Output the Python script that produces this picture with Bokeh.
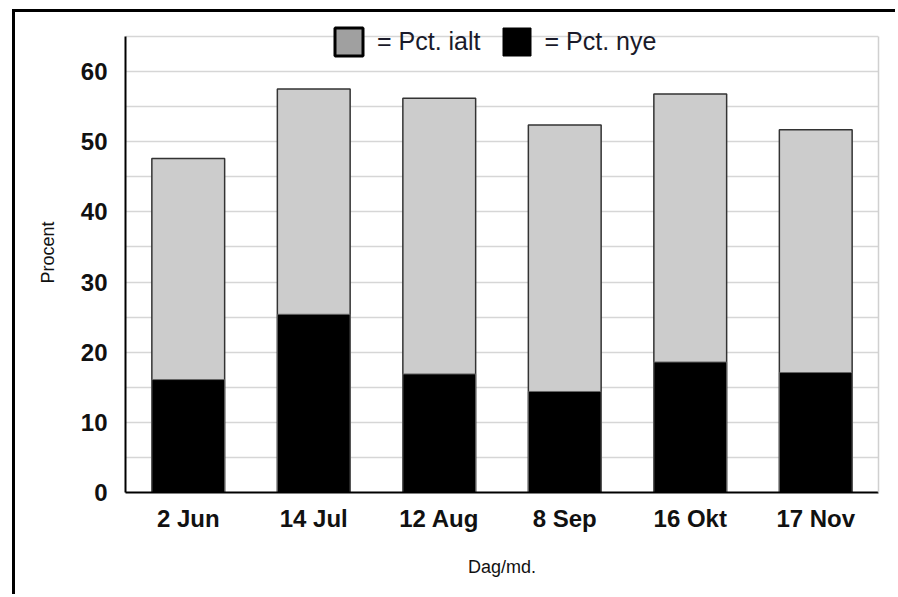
from bokeh.plotting import figure
from bokeh.models import (FactorRange, Range1d, SingleIntervalTicker, FixedTicker,
                          Legend, LegendItem, LinearAxis)
from bokeh.embed import file_html
from bokeh.resources import INLINE

dates = ["2 Jun", "14 Jul", "12 Aug", "8 Sep", "16 Okt", "17 Nov"]
pct_ialt = [47.6, 57.5, 56.2, 52.4, 56.8, 51.7]
pct_nye = [16.1, 25.4, 16.9, 14.4, 18.6, 17.1]
legend_labels = ["= Pct. ialt", "= Pct. nye"]

FONT = "Liberation Sans"
Y_TOP = 65  # top of the drawn plot box

# the frame extends a little above 65 so the legend (which straddles the box top) is not clipped
p = figure(width=883, height=585, x_range=FactorRange(*dates), y_range=Range1d(0, 68.42),
           output_backend="svg", toolbar_location=None,
           min_border_left=110, min_border_top=0, min_border_right=20, min_border_bottom=105)
p.styles = {"border-left": "3px solid black", "border-top": "3px solid black",
            "margin-left": "12px", "margin-top": "9px"}
p.background_fill_color = "white"
p.border_fill_color = "white"
p.outline_line_color = None

# grid
p.xgrid.visible = False
p.ygrid.ticker = SingleIntervalTicker(interval=5)
p.ygrid.grid_line_color = "#d6d6d6"
p.ygrid.grid_line_width = 1.5
p.ygrid.bounds = (0, Y_TOP)

# bars
p.vbar(x=dates, top=pct_ialt, width=0.58, fill_color="#cccccc",
       line_color="#333333", line_width=1.5)
p.vbar(x=dates, top=pct_nye, width=0.58, fill_color="black",
       line_color="#666666", line_width=1)

# legend swatches (hidden renderers)
r1 = p.vbar(x=dates[:1], top=[0], width=0.5, fill_color="#a0a0a0", line_color="black",
            line_width=3, visible=False)
r2 = p.vbar(x=dates[:1], top=[0], width=0.5, fill_color="black", line_color="black",
            line_width=1, visible=False)
legend = Legend(items=[LegendItem(label=legend_labels[0], renderers=[r1]),
                       LegendItem(label=legend_labels[1], renderers=[r2])],
                orientation="horizontal", location=(206, 433),
                glyph_width=35, glyph_height=35, label_standoff=11, spacing=18,
                padding=0, margin=0, border_line_color=None,
                background_fill_alpha=0, inactive_fill_alpha=0,
                label_text_font=FONT, label_text_font_size="25px",
                label_text_color="#1a1a2a")
p.add_layout(legend)

# axes
for ax in (p.xaxis, p.yaxis):
    ax.axis_line_color = "black"
    ax.axis_line_width = 2
    ax.major_tick_line_color = None
    ax.minor_tick_line_color = None
    ax.major_label_text_font = FONT
    ax.major_label_text_font_style = "bold"
    ax.major_label_text_font_size = "24px"
    ax.major_label_text_color = "#111111"
    ax.axis_label_text_font = FONT
    ax.axis_label_text_font_style = "normal"
    ax.axis_label_text_font_size = "18px"
    ax.axis_label_text_color = "#111111"

p.yaxis.ticker = SingleIntervalTicker(interval=10)
p.yaxis.bounds = (0, Y_TOP)
p.yaxis.major_label_standoff = 12
p.yaxis.axis_label = "Procent"
p.yaxis.axis_label_standoff = 20
p.xaxis.major_label_standoff = 6
p.xaxis.axis_label = "Dag/md."
p.xaxis.axis_label_standoff = 22

# light grey right edge of the plot box
right_edge = LinearAxis(bounds=(0, Y_TOP), ticker=FixedTicker(ticks=[]),
                        axis_line_color="#d0d0d0", axis_line_width=1.5,
                        major_tick_line_color=None, minor_tick_line_color=None)
p.add_layout(right_edge, "right")

open("out.html", "w").write(file_html(p, INLINE))
